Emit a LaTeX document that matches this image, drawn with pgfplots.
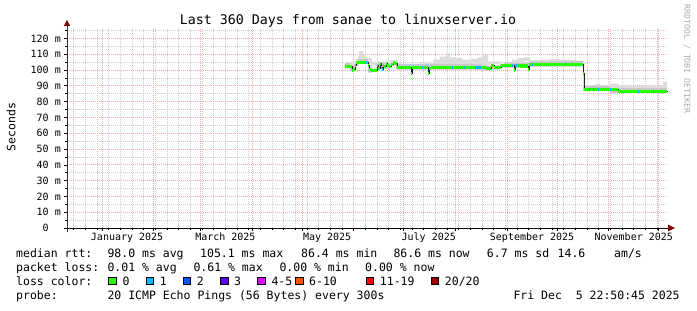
\documentclass[border=0pt]{standalone}
\usepackage{fontspec}
\usepackage{pgfplots}
\usepackage{pgfplotstable}
\pgfplotsset{compat=1.18}
\newfontfamily\mono{DejaVu Sans Mono}
\definecolor{lc0}{HTML}{26FF00}
\definecolor{lc1}{HTML}{00B8FF}
\definecolor{lc2}{HTML}{0059FF}
\definecolor{lc3}{HTML}{5E00FF}
\definecolor{lc4}{HTML}{DD00FF}
\definecolor{lc6}{HTML}{FF5500}
\definecolor{lc11}{HTML}{FF0000}
\definecolor{lc20}{HTML}{A00000}
\definecolor{mgrid}{HTML}{F0A8A8}
\definecolor{ggrid}{HTML}{CCCCCC}
\definecolor{smokeA}{HTML}{DCDCDC}
\definecolor{smokeB}{HTML}{C8C8C8}
\definecolor{medcol}{HTML}{202020}
\definecolor{arrowcol}{HTML}{800000}
\definecolor{credit}{HTML}{AAAAAA}

\pgfplotstableread{
x med
145.75 102.3
150.0 99.5
150.6 100.5
151.8 103
152.4 105
159.6 103
160.2 100.5
161.4 99.5
165.0 103
165.6 101
166.8 104
167.4 101.5
168.0 100.5
168.6 103
169.2 102
170.4 104
171.0 103
172.2 102
173.4 103.5
174.6 104.5
175.8 104
177.0 101.5
185.4 98
186.0 101.5
195.6 97.5
196.2 101
197.4 101.5
230.4 100.8
233.4 102.7
235.2 101.5
239.4 102.7
247.2 100
247.8 102.7
250.8 102.5
255.6 100.5
256.2 103.4
288.6 98
289.2 87.8
309.6 86.5
338.95 86.6
}\medtab

% smoke: lower edge, inner (dark) band height, outer (light) band height
\pgfplotstableread{
x lo dmid dup
145.75 101.1 3.4 0.5
148.75 101.1 3.4 0.3
151.75 99.3 3.4 3.3
153.55 103.8 3.4 1.8
154.15 103.8 3.4 4.8
156.55 103.8 3.4 2.3
158.35 103.8 3.4 0.8
159.55 103.8 3.4 0
161.95 98.3 3.4 1.3
165.55 101.8 3.4 0
169.15 101.8 3.4 0.3
172.75 100.8 3.4 0.8
176.35 102.8 3.4 0
177.55 100.3 3.4 0.3
184.75 100.3 3.4 0.3
190.75 100.3 3.4 1.0
194.35 100.3 3.4 0.6
198.55 100.3 3.4 2.8
202.75 100.3 3.4 4.8
206.35 100.3 3.4 6.8
208.75 100.3 3.4 4.3
212.35 100.3 3.4 3.8
215.95 100.3 3.4 2.8
220.75 100.3 3.4 3.3
225.55 100.3 3.4 4.3
227.95 100.3 3.4 5.8
231.55 99.6 3.4 2.5
238.75 100.3 3.4 0.5
241.15 101.5 3.4 0.3
245.95 101.5 3.4 1.6
249.55 101.5 3.4 2.6
253.15 101.3 3.4 3.3
256.75 102.2 3.4 0.6
262.75 102.2 3.4 0.9
268.75 102.2 3.4 1.4
274.75 102.2 3.4 0.9
280.75 102.2 3.4 0.6
284.35 102.2 3.4 0.2
288.55 102.2 3.4 0
289.2 86.6 3.4 0.5
295.75 86.6 3.4 1.0
298.75 86.6 3.4 0.5
304.75 86.6 3.4 1.2
309.55 85.3 3.4 1.8
316.75 85.3 3.4 1.3
322.75 85.3 3.4 1.8
328.75 85.3 3.4 1.3
336.55 85.3 3.4 3.8
338.95 85.3 3.4 3.8
}\smoketab

\begin{document}
\begin{tikzpicture}[x=1bp,y=1bp]
\path[use as bounding box] (0,0) rectangle (697,310);
\begin{axis}[
  at={(67bp,82bp)}, anchor=south west,
  scale only axis, width=600bp, height=200bp,
  xmin=-21.05, xmax=338.95, ymin=0, ymax=126.58,
  clip=false,
  axis line style={draw=none},
  xtick={0,31,59,90,120,151,181,212,243,273,304,334},
  xticklabels={},
  minor xtick={-17,-10,...,333},
  ytick={0,10,...,120},
  yticklabels={{0\phantom{~m}},{10~m},{20~m},{30~m},{40~m},{50~m},{60~m},{70~m},{80~m},{90~m},{100~m},{110~m},{120~m}},
  minor ytick={5,15,...,125},
  grid=both,
  major grid style={draw=mgrid, dash pattern=on 1bp off 1bp, line width=0.7bp},
  minor grid style={draw=ggrid, dash pattern=on 1bp off 1bp, line width=0.7bp},
  xtick pos=bottom, ytick pos=left,
  tick align=outside,
  major tick length=3bp, minor tick length=2bp,
  tick style={draw=black, line width=0.6bp},
  extra x ticks={15,74,135,196,258,319},
  extra x tick labels={January 2025,March 2025,May 2025,July 2025,September 2025,November 2025},
  extra x tick style={grid=none, major tick length=0pt},
  xticklabel style={font=\mono\fontsize{10bp}{12bp}\selectfont, inner sep=0pt, anchor=north, yshift=-4.5bp},
  yticklabel style={font=\mono\fontsize{10bp}{12bp}\selectfont, inner sep=0pt, anchor=east, xshift=-3bp},
]
\addplot[ybar interval, stack plots=y, draw=none, fill=none] table[x=x,y=lo]{\smoketab};
\addplot[ybar interval, stack plots=y, draw=none, fill=smokeB] table[x=x,y=dmid]{\smoketab};
\addplot[ybar interval, stack plots=y, draw=none, fill=smokeA] table[x=x,y=dup]{\smoketab};
\addplot[const plot, draw=medcol, line width=1bp] table[x=x,y=med]{\medtab};
\addplot[jump mark left, draw=lc0, line width=3.1bp, line cap=butt] table[x=x,y=med]{\medtab};
\addplot[draw=lc1, line width=3.1bp, line cap=butt, unbounded coords=jump] coordinates {
(158.35,105) (159.1,105) (159.2,nan)
(168.0,100.5) (168.6,100.5) (168.7,nan)
(179.35,101.5) (180.1,101.5) (180.2,nan)
(191.8,101.5) (192.5,101.5) (192.6,nan)
(209.95,101.5) (210.7,101.5) (210.8,nan)
(217.15,101.5) (217.9,101.5) (218.0,nan)
(223.75,101.5) (227.35,101.5) (227.4,nan)
(245.95,102.7) (246.7,102.7) (246.8,nan)
(248.35,102.7) (249.0,102.7) (249.1,nan)
(257.65,103.4) (258.4,103.4) (258.5,nan)
(277.45,103.4) (278.2,103.4) (278.3,nan)
(292.15,87.8) (292.9,87.8) (293.0,nan)
(294.55,87.8) (295.3,87.8) (295.4,nan)
(297.25,87.8) (298.0,87.8) (298.1,nan)
(304.45,87.8) (305.2,87.8) (305.3,nan)
(321.55,86.5) (322.3,86.5) (322.4,nan)
(330.55,86.5) (331.3,86.5)
};
% axis lines and arrows
\draw[black, line width=1bp] ([xshift=-3bp]rel axis cs:0,0) -- ([xshift=1.5bp]rel axis cs:1,0);
\draw[black!80, line width=1bp] ([yshift=-4bp]rel axis cs:0,0) -- ([yshift=2.5bp]rel axis cs:0,1);
\fill[arrowcol] ([xshift=1bp,yshift=-3.4bp]rel axis cs:1,0) -- ([xshift=8bp]rel axis cs:1,0) -- ([xshift=1bp,yshift=3.4bp]rel axis cs:1,0) -- cycle;
\fill[arrowcol] ([xshift=-3.2bp,yshift=2bp]rel axis cs:0,1) -- ([yshift=8bp]rel axis cs:0,1) -- ([xshift=3.2bp,yshift=2bp]rel axis cs:0,1) -- cycle;
\end{axis}
% title
\node[anchor=base, inner sep=0pt, font=\mono\fontsize{13.3bp}{16bp}\selectfont] at (348,286) {Last 360 Days from sanae to linuxserver.io};
% y label
\node[rotate=90, anchor=center, inner sep=0pt, font=\mono\fontsize{11.5bp}{14bp}\selectfont] at (11,183) {Seconds};
% credit
\node[rotate=-90, anchor=center, inner sep=0pt, text=credit, font=\mono\fontsize{8.2bp}{10bp}\selectfont] at (687,251) {RRDTOOL / TOBI OETIKER};
% legend
\begin{scope}[every node/.style={anchor=base west, inner sep=0pt, font=\mono\fontsize{11.5bp}{14bp}\selectfont}]
\node at (16,52.5) {median rtt:};
\node at (107.3,52.5) {98.0~ms~avg};
\node at (200,52.5) {105.1~ms~max};
\node at (301,52.5) {86.4~ms~min};
\node at (393.3,52.5) {86.6~ms~now};
\node at (486.7,52.5) {6.7~ms~sd};
\node at (557.5,52.5) {14.6};
\node at (614,52.5) {am/s};
\node at (16,38.5) {packet loss:};
\node at (107.3,38.5) {0.01~\%~avg};
\node at (193.3,38.5) {0.61~\%~max};
\node at (279.3,38.5) {0.00~\%~min};
\node at (365,38.5) {0.00~\%~now};
\node at (16,24.5) {loss color:};
\node at (122.3,24.5) {0};
\node at (159.7,24.5) {1};
\node at (196.7,24.5) {2};
\node at (234,24.5) {3};
\node at (271.3,24.5) {4-5};
\node at (309,24.5) {6-10};
\node at (379.7,24.5) {11-19};
\node at (444.7,24.5) {20/20};
\node at (16,10.5) {probe:};
\node at (107.3,10.5) {20~ICMP~Echo~Pings~(56~Bytes)~every~300s};
\node at (513.3,10.5) {Fri~Dec~~5~22:50:45~2025};
\end{scope}
\foreach \xx/\cc in {108.3/lc0,145.7/lc1,182.7/lc2,220/lc3,257.3/lc4,295/lc6,365.7/lc11,430.7/lc20}{
  \filldraw[fill=\cc, draw=black, line width=0.8bp] (\xx+0.5,25.2) rectangle ++(7.5,7.5);
}
\end{tikzpicture}
\end{document}
